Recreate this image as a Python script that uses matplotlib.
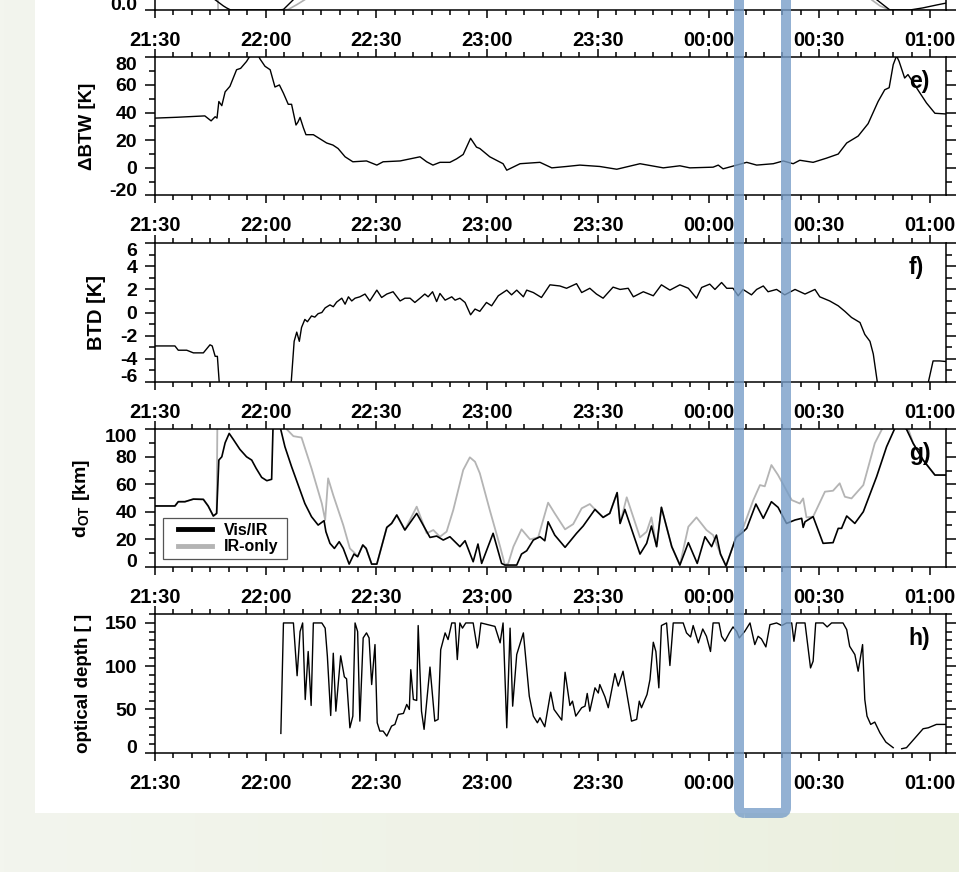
import numpy as np
import matplotlib
matplotlib.use("Agg")
import matplotlib.pyplot as plt
from matplotlib.ticker import MultipleLocator, FuncFormatter
from matplotlib.patches import Rectangle, FancyBboxPatch
from matplotlib.lines import Line2D

plt.rcParams['font.family'] = ['Liberation Sans', 'DejaVu Sans']
plt.rcParams['font.weight'] = 'bold'
plt.rcParams['axes.labelweight'] = 'bold'
plt.rcParams['axes.unicode_minus'] = False
plt.rcParams['mathtext.fontset'] = 'custom'
plt.rcParams['mathtext.rm'] = 'Liberation Sans:bold'
plt.rcParams['mathtext.bf'] = 'Liberation Sans:bold'

# time axis: minutes after 21:30 UTC
T0 = 21 * 60 + 30
XMAX = 214.3

# top panel (only the lower edge is visible)
top_gray_t = [0, 16.8, 17.1, 34.8, 36.1, 38.5, 40.6, 45, 190, 194.1, 196.4, 199.1, 214.3]
top_gray_v = [0.4, 0.35, 0.0, 0.0, 0.004, 0.04, 0.075, 0.3, 0.3, 0.075, 0.03, 0.0, 0.0]
top_blk_t = [0, 18.5, 19.4, 20.5, 33.5, 34.8, 37.5, 40, 190, 195.5, 199.1, 204.5, 208.0, 211.7, 214.3]
top_blk_v = [0.4, 0.03, 0.015, 0.0, 0.0, 0.004, 0.075, 0.3, 0.3, 0.075, 0.0, 0.0, 0.015, 0.036, 0.05]

# e) delta BTW [K]
btw_t = [0, 5.9, 13.5, 15.2, 16.3, 16.8, 17.3, 18.1, 19.0, 20.3, 22.1, 23.2, 24.8, 25.5, 26.5,
         27.9, 28.4, 29.8, 31.2, 32.5, 33.7, 34.8, 36.1, 37.0, 38.2, 38.7, 39.3, 40.2, 40.9,
         42.9, 46.5, 48.2, 49.6, 51.5, 53.6, 57.3, 60.1, 61.8, 66.4, 71.8, 73.6, 75.3, 77.2,
         79.9, 81.7, 83.5, 85.5, 87.1, 88.0, 90.7, 94.3, 95.3, 98.9, 104.3, 107.5, 111.5, 115.1,
         120.5, 125.1, 131.4, 137.7, 142.2, 144.9, 151.2, 152.6, 153.9, 160.3, 163.0, 167.5,
         170.2, 172.9, 174.7, 178.3, 181.9, 185.1, 187.4, 190.5, 193.2, 195.9, 197.7, 198.9,
         200.0, 200.9, 201.6, 203.1, 204.0, 206.3, 209.0, 211.3, 214.3]
btw_v = [36, 36.6, 37.6, 34, 37, 36, 48, 45, 55, 59, 71, 72, 77, 80, 83,
         82, 79, 73.5, 71, 58.5, 60, 54, 46, 46, 31, 33, 36.5, 29, 24,
         24, 18, 16.5, 14, 8, 4.4, 5, 2, 4.4, 5, 8, 4.4, 2, 4,
         4, 6.5, 9.7, 21.4, 15, 14, 8, 3, -1.7, 3, 4, 0, 1, 2,
         1, -1, 3, 0, 1.5, 0, 0.5, 2, -0.7, 4, 2, 3,
         5, 3, 5.5, 4, 7, 10, 18, 23, 32, 48, 56.5, 58,
         74.7, 81, 77, 65, 67.5, 58, 47, 39.5, 39]

# f) BTD [K]
btd_t = [0, 5.4, 6.3, 8.6, 10.4, 13.1, 14.9, 15.5, 16.3, 16.9, 17.5, np.nan,
         36.8, 37.7, 38.4, 39.1, 39.7, 40.6, 41.3, 42.4, 43.3, 44.2, 45.2, 46.1, 47.4, 48.3,
         49.2, 50.6, 51.5, 52.4, 53.3, 54.2, 55.5, 56.9, 58.2, 60.1, 61.4, 62.8, 64.5, 66.4,
         67.7, 69.1, 70.4, 71.8, 73.1, 74.0, 75.2, 76.3, 77.2, 78.6, 80.4, 81.3, 82.6, 84.0,
         85.5, 86.7, 88.0, 89.8, 91.2, 93.0, 95.3, 96.6, 98.0, 99.8, 100.7, 102.5, 104.7, 107.0,
         109.7, 111.5, 114.2, 115.6, 117.8, 119.6, 121.4, 124.1, 126.0, 128.2, 129.6, 132.3,
         135.0, 137.2, 139.5, 142.2, 144.5, 146.7, 148.1, 150.3, 151.7, 153.5, 154.9, 156.6,
         158.0, 159.3, 161.6, 163.0, 164.8, 166.1, 168.4, 170.6, 173.4, 176.1, 178.8, 180.1,
         182.8, 185.1, 186.9, 188.7, 191.0, 192.3, 193.7, 194.6, 195.9, np.nan,
         209.2, 210.8, 212.6, 214.3]
btd_v = [-2.9, -2.9, -3.27, -3.27, -3.5, -3.5, -2.8, -2.9, -3.8, -3.8, -6.5, np.nan,
         -6.5, -2.5, -1.7, -2.5, -1.3, -0.6, -0.8, -0.3, -0.4, -0.1, 0, 0.4, 0.66, 0.5,
         0.9, 1.24, 0.72, 1.36, 1.0, 1.24, 1.36, 1.6, 1.0, 1.94, 1.3, 1.6, 1.8, 1.0,
         1.24, 1.24, 0.87, 1.24, 1.6, 1.36, 1.8, 0.95, 1.65, 1.07, 1.36, 1.07, 1.24, 0.87,
         -0.2, 0.3, 0.1, 0.87, 0.58, 1.45, 1.94, 1.53, 1.94, 1.36, 1.94, 1.73, 1.3, 2.4,
         2.3, 2.1, 2.5, 1.73, 2.1, 1.6, 1.24, 2.2, 2.0, 2.1, 1.36, 1.8,
         1.45, 2.4, 1.94, 2.4, 2.1, 1.24, 2.17, 2.46, 2.0, 2.6, 2.1, 2.1,
         1.45, 2.0, 1.53, 2.0, 2.3, 1.8, 2.0, 1.53, 2.0, 1.6, 2.0, 1.36,
         1.0, 0.58, 0.1, -0.43, -0.87, -1.9, -2.5, -3.6, -6.5, np.nan,
         -6.5, -4.2, -4.2, -4.25]

# g) overshooting-top diameter [km], Vis/IR
dot_vis_t = [0, 5.4, 6.3, 8.1, 10.4, 13.1, 14.4, 15.8, 16.7, 17.3, 18.1, 19.0, 20.1, 21.2,
             23.0, 24.8, 26.2, 27.4, 28.9, 30.3, 31.6, 32.0, 33.7, 35.2, 37.0, 38.8, 40.6,
             42.4, 44.2, 45.8, 46.3, 47.4, 48.6, 49.9, 51.0, 52.6, 53.9, 54.9, 56.3, 57.2,
             58.7, 60.1, 62.8, 64.1, 65.5, 67.7, 70.9, 74.5, 76.3, 78.1, 79.9, 82.6, 84.0,
             86.2, 87.5, 88.5, 91.6, 93.9, 94.8, 98.0, 99.3, 100.7, 102.5, 104.3, 105.6, 106.5,
             108.3, 111.1, 114.2, 116.0, 119.2, 121.4, 123.2, 125.2, 126.0, 127.3, 131.4, 133.2,
             134.5, 135.9, 137.2, 140.0, 142.2, 144.5, 146.9, 149.0, 150.8, 152.1, 153.2, 154.7,
             157.4, 158.9, 160.3, 162.8, 164.8, 167.0, 168.8, 171.1, 173.4, 175.2, 175.6, 176.1,
             178.3, 181.0, 183.7, 185.1, 186.0, 187.4, 189.6, 191.9, 195.5, 198.2, 200.4, 201.8,
             203.6, 205.4, 208.1, 211.3, 214.3]
dot_vis_v = [44.2, 44.2, 47.3, 47.3, 49.2, 49, 44.2, 36.9, 38.8, 77.6, 80, 90.2, 97, 92.7,
             85.4, 80, 77.6, 71.6, 65, 62.6, 63.6, 104, 104, 87.3, 72.8, 59.4, 46,
             36.4, 30.3, 33.5, 25.5, 17, 13.3, 18.2, 13.3, 1.9, 9.2, 7.3, 15.8, 13.3,
             1.9, 1.9, 28.6, 31.5, 37.6, 26.7, 38.8, 21.3, 22.3, 19.4, 21.8, 14.6, 18.9,
             3.6, 16.5, 2.4, 24.3, 2.4, 1.2, 1.2, 9.2, 11.6, 19.4, 21.8, 18.9, 32.7,
             23, 14.1, 24.3, 29.6, 41.7, 35.9, 38.8, 53.9, 31.5, 41.7, 9.2, 17,
             29.6, 14.6, 43.2, 14.6, 1.2, 17.5, 2.4, 21.8, 14.6, 23, 9.2, 0.5,
             21.3, 24.3, 27.9, 45.6, 35.2, 47.3, 43.2, 31.5, 34, 35.2, 28.6, 32.7,
             36.4, 17, 17.5, 27.9, 27.9, 36.9, 31.5, 40, 65.5, 87.3, 100.5, 104,
             100, 89.8, 77.6, 66.7, 66.7]

# g) overshooting-top diameter [km], IR-only
dot_ir_t = [0, 5.4, 6.3, 8.1, 10.4, 13.1, 14.4, 15.8, 16.7, 16.9, 19.8, 20.3, 20.9, 34.9,
            35.7, 37.5, 39.7, 42.4, 45.2, 46.1, 46.9, 48.3, 51.0, 52.8, 54.2, 54.9, 56.3,
            57.2, 58.7, 60.1, 62.8, 64.1, 65.5, 67.7, 70.9, 73.6, 75.4, 77.2, 79.0, 80.8,
            83.5, 85.3, 86.7, 88.0, 90.7, 93.5, 94.8, 95.7, 97.1, 99.3, 101.6, 103.8, 106.5,
            108.3, 111.1, 113.3, 115.6, 117.8, 119.2, 121.4, 123.2, 125.2, 126.0, 127.8, 131.4,
            133.2, 134.5, 135.9, 137.2, 140.0, 142.2, 144.5, 146.7, 149.4, 151.2, 153.2, 154.7,
            157.4, 159.3, 162.1, 163.9, 165.2, 167.0, 168.8, 172.5, 174.7, 175.6, 176.5, 178.3,
            181.5, 183.7, 185.5, 186.9, 188.7, 191.9, 195.0, 197.7, 203.6, 205.4, 208.1, 211.3,
            214.3]
dot_ir_v = [44.2, 44.2, 47.3, 47.3, 49.2, 49, 44.2, 36.9, 38.8, 105, 104, 99.5, 104, 104,
            100, 95, 94, 71.6, 46, 34, 64.3, 52, 30.3, 13.3, 9.7, 7.3, 15.8,
            13.3, 1.9, 1.9, 28.6, 31.5, 37.6, 26.7, 43.7, 24.3, 26.7, 21.8, 25.5, 41.2,
            70.4, 79.6, 76.4, 68, 41.2, 14.6, 1.2, 2.4, 14.6, 27.2, 19.9, 21.3, 46.6,
            38.8, 27.2, 31, 42.5, 45.6, 41.7, 35.9, 38.8, 53.9, 31.5, 50.5, 21.3,
            25.5, 35.9, 14.6, 43.2, 14.6, 1.2, 29.1, 35.9, 26.7, 23, 9.2, 0.5,
            21.3, 28, 48.5, 59.4, 58.5, 74, 66.7, 48.5, 46, 49.7, 35.9, 36.4,
            54.6, 55.3, 60.7, 50.9, 49.7, 59.4, 89.8, 104, 104, 89.8, 77.6, 66.7,
            66.7]

# h) optical depth
tau_t = [34.1, 34.8, 37.5, 38.5, 39.3, 40.0, 40.7, 41.5, 42.3, 42.9, 45.2, 46.1, 46.7, 47.6,
         48.3, 49.0, 50.3, 51.3, 51.9, 52.8, 53.6, 54.2, 54.9, 55.5, 56.4, 57.3, 58.0, 58.7,
         59.6, 60.2, 60.9, 61.8, 62.8, 64.1, 65.0, 65.9, 67.3, 68.2, 68.9, 69.3, 70.0, 70.9,
         71.3, 72.2, 72.9, 74.5, 75.8, 76.7, 77.4, 78.6, 79.4, 80.4, 81.3, 81.9, 82.6, 83.3,
         84.2, 86.2, 87.3, 87.6, 88.3, 92.1, 93.5, 94.3, 95.3, 96.2, 96.9, 98.0, 99.8, 101.4,
         102.5, 103.6, 104.3, 105.6, 107.2, 108.1, 110.2, 111.1, 112.4, 113.1, 114.0, 115.6,
         116.5, 117.1, 117.8, 119.2, 120.1, 120.5, 121.9, 122.8, 124.6, 125.5, 126.8, 129.1,
         130.5, 131.2, 131.8, 133.3, 134.1, 135.0, 135.7, 136.5, 137.2, 138.6, 139.5, 140.4,
         143.1, 144.0, 145.1, 145.8, 147.2, 148.4, 149.4, 150.5, 151.2, 152.8, 153.5, 154.4,
         155.6, 156.6, 157.6, 158.3, 159.8, 161.2, 162.5, 163.4, 164.3, 165.5, 166.6, 168.4,
         169.8, 171.1, 172.5, 173.1, 173.8, 176.1, 177.6, 178.3, 179.0, 181.0, 182.1, 183.3,
         186.4, 187.4, 188.2, 189.6, 190.5, 191.7, 192.3, 192.9, 193.9, 195.0, 196.4, 198.0,
         200.0, np.nan, 202.3, 203.6, 205.4, 208.1, 209.5, 211.7, 214.3]
tau_v = [22.3, 150, 150, 89, 140, 150, 61.5, 117, 54.6, 150, 150, 144, 111.5, 43,
         115, 48, 112, 87.7, 85.4, 28.8, 42.3, 150, 140, 36.5, 132.7, 138.5, 132.7, 78.8,
         125, 34.6, 25, 25, 19.2, 30.8, 32.7, 44.2, 45.4, 55.8, 50, 96, 61.5, 60.4,
         147, 48, 27, 99, 36.5, 38.5, 119, 138.5, 130.8, 150, 150, 107.7, 150, 144,
         150, 150, 121, 125, 150, 146, 127, 150, 28.8, 144, 53.8, 113.5, 138.5, 65.4,
         42.3, 34.6, 40.4, 30, 70, 50, 37.7, 93, 54.6, 59.6, 42.3, 52,
         53.8, 68.5, 48, 75, 69, 78.8, 64.6, 52, 91.5, 77, 94.2, 36.5,
         38.5, 59.6, 52, 67.3, 84.6, 127.7, 117, 75, 147, 150, 100.8, 150,
         150, 138.5, 133.8, 147, 127, 143, 134.6, 117, 150, 150, 134.6, 128.8,
         138.5, 145.4, 140, 132.7, 140.4, 150, 125, 134.6, 131.5, 122.3, 148, 150,
         147, 150, 150, 128.8, 150, 150, 98, 105.8, 150, 150, 145.4, 150,
         150, 142.3, 123, 113.5, 94.2, 125, 61.5, 42.3, 32.7, 35.4, 23, 12.3,
         5.8, np.nan, 4.6, 5.8, 14.6, 27.7, 28.8, 32.7, 32.7]

W, H = 959, 872
fig = plt.figure(figsize=(W / 100, H / 100), dpi=100)


def px_axes(top, bottom):
    return fig.add_axes([155 / W, 1 - bottom / H, 791 / W, (bottom - top) / H])


# page background: pale green wash with a white sheet
bg = fig.add_axes([0, 0, 1, 1], zorder=-10)
grad = np.linspace(0, 1, 256)[None, :]
bg.imshow(grad, aspect='auto', extent=[0, 1, 0, 1],
          cmap=matplotlib.colors.LinearSegmentedColormap.from_list('wash', ['#f3f5ee', '#ebf0df']))
bg.add_patch(Rectangle((35 / W, 1 - 813 / H), 1, 1, color='white', lw=0))
bg.set_xlim(0, 1)
bg.set_ylim(0, 1)
bg.axis('off')


def clock(m, pos):
    t = (T0 + int(round(m))) % (24 * 60)
    return f'{t // 60:02d}:{t % 60:02d}'


def style(ax, ylim, major, minor, label=None, letter=None, lsize=14):
    ax.set_xlim(0, XMAX)
    ax.set_ylim(*ylim)
    ax.xaxis.set_major_locator(MultipleLocator(30))
    ax.xaxis.set_minor_locator(MultipleLocator(5))
    ax.xaxis.set_major_formatter(FuncFormatter(clock))
    ax.yaxis.set_major_locator(MultipleLocator(major))
    ax.yaxis.set_minor_locator(MultipleLocator(minor))
    ax.tick_params(axis='x', which='both', direction='out', top=True, bottom=True,
                   labelsize=14.5, pad=9.2, width=1.1)
    ax.tick_params(axis='x', which='major', length=5.8)
    ax.tick_params(axis='x', which='minor', length=3.6)
    ax.tick_params(axis='y', which='both', direction='out', left=True, right=True,
                   labelsize=14, pad=5.5, width=1.1)
    ax.tick_params(axis='y', which='major', length=7.2)
    ax.tick_params(axis='y', which='minor', length=4)
    for sp in ax.spines.values():
        sp.set_linewidth(1.1)
    if label:
        ax.set_ylabel(label, fontsize=lsize, va='center')
    if letter:
        ax.annotate(letter, xy=(0.953, 1), xycoords='axes fraction', xytext=(0, -9.5),
                    textcoords='offset points', ha='left', va='top', fontsize=16.5,
                    fontweight='bold')


def nudge_ends(ax):
    # keep the end labels inside the frame
    fig.canvas.draw()
    lo, hi = ax.get_ylim()
    for tick, lbl in zip(ax.yaxis.get_major_locator()(), ax.get_yticklabels()):
        if abs(tick - lo) < 1e-9:
            lbl.set_va('baseline')
        elif abs(tick - hi) < 1e-9:
            lbl.set_va('top')


ax0 = px_axes(-128, 10)
ax0.plot(top_gray_t, top_gray_v, color='#b0b0b0', lw=1.2)
ax0.plot(top_blk_t, top_blk_v, color='black', lw=1.0)
style(ax0, (0, 1), 0.5, 0.1)
# only the lowest label of this panel falls on the page
ax0.yaxis.set_major_formatter(FuncFormatter(lambda v, p: f'{v:.1f}' if abs(v) < 1e-9 else ''))

ax_e = px_axes(57.3, 195.5)
ax_e.plot(btw_t, btw_v, color='black', lw=1.0)
style(ax_e, (-20, 80), 20, 10, '\u0394BTW [K]', 'e)', lsize=13.5)
ax_e.yaxis.set_label_coords((87 - 155) / 791, 0.5)

ax_f = px_axes(243.3, 381.7)
ax_f.plot(btd_t, btd_v, color='black', lw=1.0)
style(ax_f, (-6, 6), 2, 1, 'BTD [K]', 'f)', lsize=14.5)
ax_f.yaxis.set_label_coords((97 - 155) / 791, 0.5)

ax_g = px_axes(429.3, 566.7)
ax_g.plot(dot_ir_t, dot_ir_v, color='#b4b4b4', lw=1.3)
ax_g.plot(dot_vis_t, dot_vis_v, color='black', lw=1.2)
style(ax_g, (0, 100), 20, 10, r'd$_{\mathrm{OT}}$ [km]', 'g)')
ax_g.yaxis.set_label_coords((81 - 155) / 791, 0.5)

# legend: hand-placed frame with the entries inside
box_x0, box_x1 = (163 - 155) / 791, (287 - 155) / 791
box_y0, box_y1 = (566.7 - 559) / 137.4, (566.7 - 518) / 137.4
ax_g.add_patch(Rectangle((box_x0, box_y0), box_x1 - box_x0, box_y1 - box_y0,
                         transform=ax_g.transAxes, facecolor='white', edgecolor='#555555',
                         lw=0.9, zorder=5))
handles = [Line2D([], [], color='black', lw=3.5), Line2D([], [], color='#b4b4b4', lw=3.5)]
leg = ax_g.legend(handles, ['Vis/IR', 'IR-only'], loc='center left',
                  bbox_to_anchor=((178 - 155) / 791, (box_y0 + box_y1) / 2),
                  fontsize=11.5, frameon=False, handlelength=2.1, borderpad=0,
                  labelspacing=0.08, handletextpad=0.8, borderaxespad=0)
leg.set_zorder(6)

ax_h = px_axes(614.3, 752.7)
ax_h.plot(tau_t, tau_v, color='black', lw=1.0)
style(ax_h, (0, 160), 50, 10, 'optical depth [ ]', 'h)', lsize=13.5)
ax_h.yaxis.set_label_coords((83 - 155) / 791, 0.5)

for ax in (ax0, ax_e, ax_f, ax_g, ax_h):
    nudge_ends(ax)

# highlighted time window
frame = FancyBboxPatch((739 / W, 1 - 813 / H), 47 / W, 900 / H,
                       boxstyle='round,pad=0,rounding_size=0.006',
                       transform=fig.transFigure, fill=False,
                       edgecolor='#789ec8', alpha=0.8, lw=7.2, zorder=20)
fig.add_artist(frame)

fig.savefig('out.png', dpi=100)
